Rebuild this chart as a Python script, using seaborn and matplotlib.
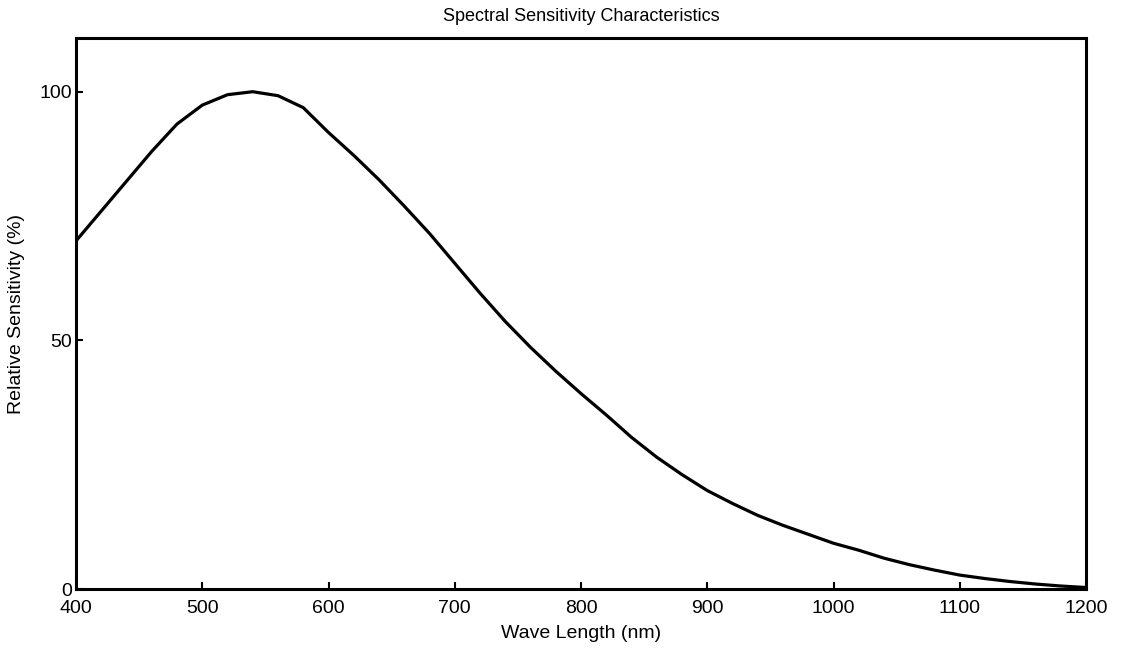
import seaborn as sns
import numpy as np
import matplotlib.pyplot as plt
import pandas as pd

# values
wavelength = [400, 420, 440, 460, 480, 500, 520, 540, 560, 580, 600, 620, 640, 660,
              680, 700, 720, 740, 760, 780, 800, 820, 840, 860, 880, 900, 920, 940,
              960, 980, 1000, 1020, 1040, 1060, 1080, 1100, 1120, 1140, 1160, 1180, 1200]
sensitivity = [70, 76, 82, 88, 93.5, 97.3, 99.4, 100, 99.2, 96.8, 91.8, 87.2, 82.3, 77,
               71.5, 65.5, 59.5, 53.8, 48.6, 43.8, 39.3, 35, 30.5, 26.5, 23, 19.8, 17.2, 14.8,
               12.8, 11, 9.2, 7.8, 6.2, 4.9, 3.8, 2.8, 2.1, 1.5, 1.0, 0.6, 0.3]
xticks = [400, 500, 600, 700, 800, 900, 1000, 1100, 1200]
yticks = [0, 50, 100]

data = pd.DataFrame({"wavelength": wavelength, "sensitivity": sensitivity})

sns.set_style("ticks")
plt.rcParams["font.family"] = ["Liberation Sans", "DejaVu Sans"]
plt.rcParams["text.color"] = "black"
plt.rcParams["axes.labelcolor"] = "black"

fig = plt.figure(figsize=(11.21, 6.51), dpi=100)
ax = fig.add_axes([76/1121, (651-589)/651, (1086-76)/1121, (589-38)/651])

sns.lineplot(x="wavelength", y="sensitivity", data=data, color="black", linewidth=2.3, ax=ax)

ax.set_xlim(400, 1200)
ax.set_ylim(0, 110.8)
ax.set_xticks(xticks)
ax.set_yticks(yticks)
ax.tick_params(direction="in", length=5, width=1.5, labelsize=14, colors="black")
ax.tick_params(axis="x", pad=8)
ax.tick_params(axis="y", pad=3)
for s in ax.spines.values():
	s.set_linewidth(2.2)
	s.set_color("black")

ax.set_xlabel("Wave Length (nm)", fontsize=14, labelpad=6)
ax.set_ylabel("Relative Sensitivity (%)", fontsize=14, labelpad=10)
ax.set_title("Spectral Sensitivity Characteristics", fontsize=13, pad=12)

plt.savefig("out.png", dpi=100)
